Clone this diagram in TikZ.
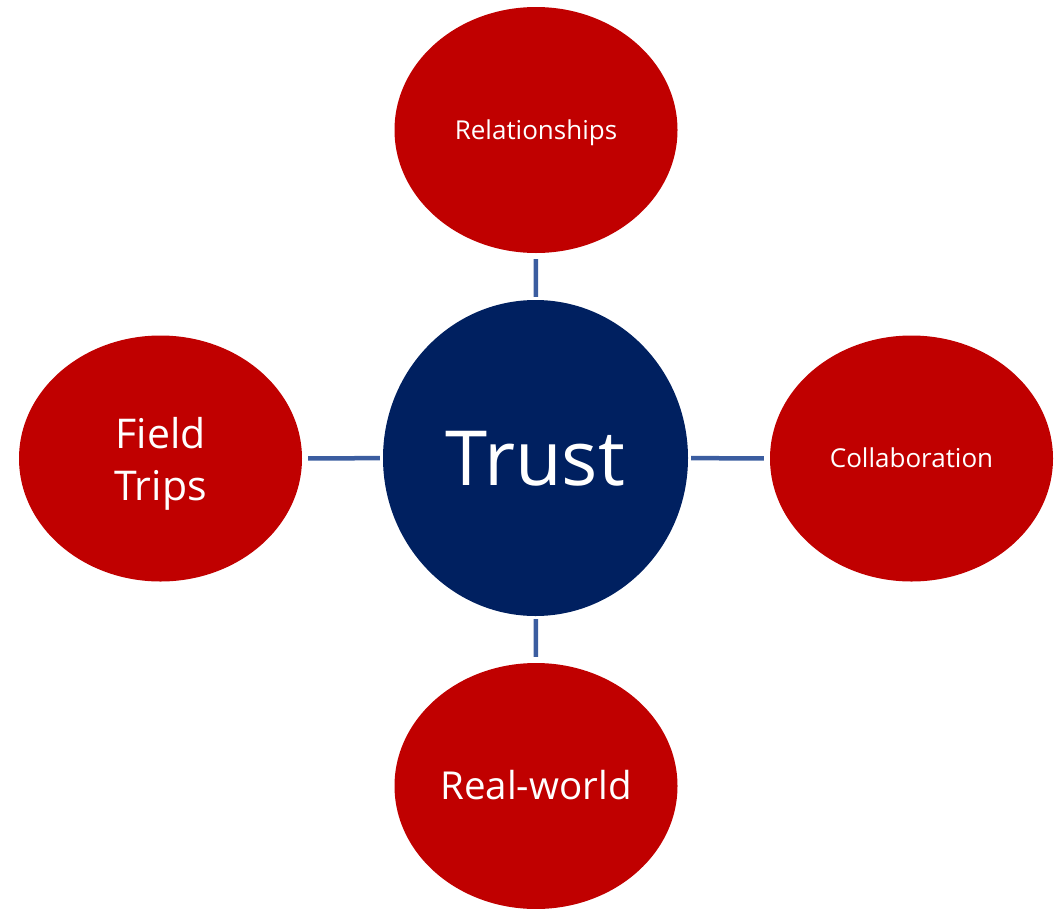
\documentclass[tikz,border=0pt]{standalone}
\usepackage{fontspec}
\setmainfont{Open Sans}
\usetikzlibrary{shapes.geometric}
\definecolor{redfill}{RGB}{192,0,0}
\definecolor{navy}{RGB}{0,32,96}
\definecolor{linkblue}{RGB}{59,93,160}
\tikzset{
  petal/.style={ellipse, fill=redfill, draw=none, minimum width=283pt, minimum height=246pt, inner sep=0pt, text=white, align=center, text depth=0pt},
  hub/.style={ellipse, fill=navy, draw=none, minimum width=305pt, minimum height=316pt, inner sep=0pt, text=white, text depth=0pt},
  conn/.style={draw=linkblue, line width=4.5pt, shorten <=3pt, shorten >=6pt}
}
\begin{document}
\begin{tikzpicture}[x=1pt,y=-1pt]
\useasboundingbox (0,0) rectangle (1063,908);
\node[hub, font=\fontsize{76}{88}\selectfont, text height=54.3pt] (trust) at (535.5,458) {Trust};
\node[petal, font=\fontsize{26}{32}\selectfont, text height=18.6pt] (rel) at (536,130) {Relationships};
\node[petal, font=\fontsize{41}{52}\selectfont] (field) at (160.5,458.5) {Field\\Trips};
\node[petal, font=\fontsize{26}{32}\selectfont, text height=18.6pt] (collab) at (911.5,458.5) {Collaboration};
\node[petal, font=\fontsize{38.5}{46}\selectfont, text height=27.5pt] (real) at (536,786) {Real-world};
\draw[conn] (trust) -- (rel);
\draw[conn] (trust) -- (field);
\draw[conn] (trust) -- (collab);
\draw[conn] (trust) -- (real);
\end{tikzpicture}
\end{document}
